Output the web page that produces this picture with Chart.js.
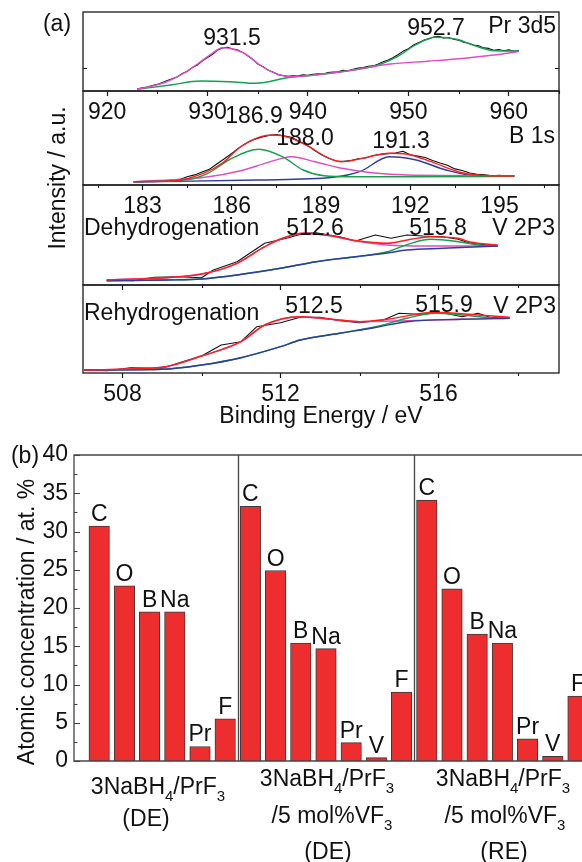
<!DOCTYPE html>
<html>
<head>
<meta charset="utf-8">
<script src="https://cdn.jsdelivr.net/npm/chart.js@4.4.1/dist/chart.umd.min.js"></script>
<style>
  html, body { margin: 0; padding: 0; background: #fff; }
  body { width: 582px; height: 862px; overflow: hidden; position: relative; }
  canvas { position: absolute; left: 0; top: 0; }
</style>
</head>
<body>
<canvas id="pr3d" width="582" height="862"></canvas>
<canvas id="b1s" width="582" height="862"></canvas>
<canvas id="vDe" width="582" height="862"></canvas>
<canvas id="vRe" width="582" height="862"></canvas>
<canvas id="atoms" width="582" height="862"></canvas>
<script>
// ---------- (a) XPS spectra: binding energy (eV) vs intensity (a.u.) ----------

// Pr 3d5
const prE = [923,923.5,924,924.5,925,925.5,926,926.5,927,927.5,928,928.5,929,929.5,930,930.5,931,931.5,932,932.5,
  933,933.5,934,934.5,935,935.5,936,936.5,937,937.5,938,938.5,939,939.5,940,940.5,941,941.5,942,942.5,
  943,943.5,944,944.5,945,945.5,946,946.5,947,947.5,948,948.5,949,949.5,950,950.5,951,951.5,952,952.5,
  953,953.5,954,954.5,955,955.5,956,956.5,957,957.5,958,958.5,959,959.5,960,960.5,961];
const prCounts = [2.0,3.1,4.0,5.5,6.6,8.4,10.5,12.3,14.2,17.6,19.8,23.4,26.1,30.2,33.4,36.8,40.9,43.0,43.8,41.9,
  41.1,38.6,35.2,31.7,27.0,24.6,20.9,18.9,16.4,15.5,14.6,15.2,14.9,16.1,15.6,16.7,17.2,17.0,18.4,18.9,
  19.1,20.6,20.3,21.8,22.9,23.4,24.8,25.1,26.9,29.2,31.0,33.6,36.5,39.9,42.3,45.9,48.2,50.6,52.1,53.9,
  54.6,53.1,53.5,51.8,50.9,48.7,47.8,46.0,45.2,43.1,42.6,40.8,41.5,40.2,41.1,39.8,40.4];
const prPeakLowE = [923,924.5,926,927.5,929,930.3,931.5,932.6,933.7,935.2,936.7,938.2,940.7,944.5,948.2,951.9,955.6,958.5,961];
const prPeakLow  = [1.7,5,9.5,17,27,36.5,43.3,41.8,37.5,26,17.8,14.3,16,21,27,29.7,32.7,36,39.5];
const prPeakHighE = [923,926.3,929.3,932.2,934.8,938.2,940.7,944.5,947,948.9,950.7,952.7,954.8,956.7,958.5,961];
const prPeakHigh  = [1.7,6,10,9.3,7.7,13.7,16,21,26,34.3,46,53.7,51.7,45,40.3,40];

// B 1s
const bE = [182.75,183,183.25,183.5,183.75,184,184.25,184.5,184.75,185,185.25,185.5,185.75,186,186.25,186.5,186.75,
  187,187.25,187.5,187.75,188,188.25,188.5,188.75,189,189.25,189.5,189.75,190,190.25,190.5,190.75,191,191.25,
  191.5,191.75,192,192.25,192.5,192.75,193,193.25,193.5,193.75,194,194.25,194.5,194.75,195,195.25,195.5];
const bCounts = [3.4,3.2,3.8,4.1,4.0,4.9,5.6,8.2,10.1,13.0,15.8,21.0,26.2,31.5,37.4,42.0,45.6,
  47.9,49.6,50.4,49.2,47.8,43.9,40.6,35.2,30.4,27.1,24.0,23.6,24.4,26.3,27.0,29.5,30.6,31.4,
  32.0,33.8,30.2,28.9,27.5,24.6,22.0,19.8,16.1,14.5,12.0,10.8,10.2,9.3,9.6,9.0,9.1];
const bEnvE = [182.7,184.1,185.1,185.7,186.3,186.9,187.4,187.9,188.6,189.2,189.7,190.4,191.3,191.9,192.7,193.6,194.3,195.5];
const bEnv  = [3.3,4.3,12.3,22.3,38.3,47.7,50,47.7,38.3,27.7,23.3,26.7,31.7,30.7,23.3,13.3,9.7,9];
const bPeakAE = [182.7,184.4,185.2,185.9,186.9,187.7,188.4,189.1,190.1,192,195.5];
const bPeakA  = [3.3,5,11.7,25,35.7,28.3,15,9.2,8.2,8.3,8.6];
const bPeakBE = [182.7,185.1,186.3,187.2,188.0,188.8,189.7,190.7,191.9,195.5];
const bPeakB  = [3.3,7.7,14.3,22.3,28.3,23.3,16.7,12.3,10,9.3];
const bPeakCE = [182.7,186.9,189.4,190.3,191.3,192.2,193.2,194.2,195.5];
const bPeakC  = [3,5,7.7,13.3,28.3,25,15,9.3,9];

// V 2p3, dehydrogenated
const vdeE = [507.6,508.26,508.8,509.4,510.0,510.3,510.9,511.6,512.2,512.6,512.9,513.5,513.9,514.4,514.8,515.2,515.6,516.1,516.5,516.8,517.5];
const vdeCounts = [5,4.3,7.7,8.3,7.3,15,23.3,41.7,47.3,51.7,52.3,48.3,44,50,46.7,50,49,48.3,45.7,41.7,39];
const vdeLowE = [507.6,510.0,510.9,511.6,512.0,512.6,513.3,513.9,514.7,515.6,517.5];
const vdeLow  = [5,11,21.7,38.3,46,51.7,49,44,40,39,39];
const vdeHighE = [507.6,509.1,510.0,510.9,512.0,512.9,513.9,514.7,515.3,515.8,516.5,517.0,517.5];
const vdeHigh  = [4.3,5,6,10,16.7,23.3,28.3,33.3,41.7,45.7,43.3,40,39];
const vdeBgE = [507.6,509.1,510.0,510.9,512.0,512.9,513.9,514.7,515.2,516.1,517.5];
const vdeBg  = [4.3,5,6,10,16.7,23.3,28.3,32,35,36.7,39];
const vdeEnvE = [507.6,510.0,510.9,511.6,512.0,512.6,513.3,513.9,514.7,515.3,515.8,516.5,516.8,517.5];
const vdeEnv  = [5,11,21.7,38.3,46,51.7,49,44.5,41.7,45.7,48.3,46.7,43,40];

// V 2p3, rehydrogenated
const vreE = [507.03,507.6,508.2,509.0,509.6,510.0,510.5,511.0,511.4,512.0,512.5,513.0,513.5,514.0,514.6,515.0,515.5,516.1,516.6,517.0,517.3,517.8];
const vreCounts = [3,2.3,5.3,4.7,12.3,17,28,31.3,46.3,50.3,55.7,55.7,52.3,50.3,53,59.7,58.7,60.3,56.3,59.7,55.7,54.7];
const vreLowE = [507.03,509.0,510.0,511.0,511.6,512.5,513.3,514.0,515.2,516.6,517.8];
const vreLow  = [3,5.7,17,31.3,48,56.3,53.7,51.3,52.3,53.7,54.7];
const vreHighE = [507.03,509.0,510.0,511.0,512.0,512.5,513.5,514.6,515.2,515.9,516.6,517.3,517.8];
const vreHigh  = [3,3.7,8,15.3,26.3,33,39.7,48,54.7,59.7,58,55.3,54.7];
const vreBgE = [507.03,509.0,510.0,511.0,512.0,512.5,513.5,514.4,515.2,516.6,517.8];
const vreBg  = [3,3.7,8,15.3,26.3,33,39.7,45.5,51.3,53.7,54.7];
const vreEnvE = [507.03,509.0,510.0,511.0,511.6,512.5,513.3,514.0,514.7,515.9,517.0,517.8];
const vreEnv  = [3,5.7,17,31.3,48,56.3,53.7,51.3,53.7,60.7,58,55.7];

// ---------- (b) surface atomic concentration (at. %) ----------
const sampleElementsPlain = ['C', 'O', 'B', 'Na', 'Pr', 'F'];
const sampleElementsV = ['C', 'O', 'B', 'Na', 'Pr', 'V', 'F'];
const atPctPrF3DE = [30.7, 22.9, 19.5, 19.5, 1.9, 5.5];
const atPctVF3DE  = [33.3, 24.9, 15.4, 14.7, 2.4, 0.45, 9.0];
const atPctVF3RE  = [34.1, 22.5, 16.6, 15.4, 2.9, 0.6, 8.5];
const yTicksAt = { min: 0, max: 40, step: 5 };

// ---------- drawing ----------
const W = 582, H = 862;
const FONT = '"Liberation Sans", Arial, Helvetica, sans-serif';
const FS = 23;
const INK = '#111';
const COL = { raw: '#111111', env: '#ff1e1e', green: '#13a050', pink: '#e04cc2', blue: '#2f3d9e' };

Chart.defaults.font.family = FONT;
Chart.defaults.font.size = FS;
Chart.defaults.color = INK;

const pts = (xs, ys) => xs.map((x, i) => ({ x, y: ys[i] }));

// text with optional subscripts: t is a string or a list of [text, isSub]
function drawText(ctx, spec) {
  const parts = typeof spec.t === 'string' ? [[spec.t, false]] : spec.t;
  const size = spec.size || FS;
  const sub = Math.round(size * 0.66);
  ctx.save();
  ctx.fillStyle = INK;
  ctx.textBaseline = 'alphabetic';
  ctx.textAlign = 'left';
  const widths = parts.map(([s, isSub]) => { ctx.font = `${isSub ? sub : size}px ${FONT}`; return ctx.measureText(s).width; });
  const total = widths.reduce((a, b) => a + b, 0);
  ctx.translate(spec.x, spec.y);
  if (spec.rot) ctx.rotate(spec.rot);
  let cx = spec.align === 'left' ? 0 : spec.align === 'right' ? -total : -total / 2;
  parts.forEach(([s, isSub], i) => {
    ctx.font = `${isSub ? sub : size}px ${FONT}`;
    ctx.fillText(s, cx, isSub ? size * 0.3 : 0);
    cx += widths[i];
  });
  ctx.restore();
}

const spectrumFrame = {
  id: 'spectrumFrame',
  afterDraw(chart, _args, opts) {
    const { ctx, chartArea: a, scales: { x, y } } = chart;
    ctx.save();
    ctx.strokeStyle = '#1a1a1a';
    ctx.lineWidth = 1.3;
    ctx.strokeRect(a.left, a.top, a.right - a.left, a.bottom - a.top);
    ctx.lineWidth = 1.1;
    // minor ticks below the energy axis
    const first = Math.ceil(x.min / opts.minor - 1e-9);
    for (let k = first; k * opts.minor <= x.max; k++) {
      const v = k * opts.minor;
      const r = v / opts.major;
      if (Math.abs(r - Math.round(r)) < 1e-6) continue;
      const px = Math.round(x.getPixelForValue(v)) + 0.5;
      ctx.beginPath(); ctx.moveTo(px, a.bottom); ctx.lineTo(px, a.bottom + 3); ctx.stroke();
    }
    // short inward intensity ticks on both sides
    (opts.yTicks || []).forEach(v => {
      const py = Math.round(y.getPixelForValue(v)) + 0.5;
      ctx.beginPath();
      ctx.moveTo(a.left, py); ctx.lineTo(a.left + 4, py);
      ctx.moveTo(a.right, py); ctx.lineTo(a.right - 4, py);
      ctx.stroke();
    });
    ctx.restore();
    (opts.texts || []).forEach(t => drawText(ctx, t));
  }
};

function spectrum(id, s) {
  const datasets = s.curves.map(c => ({
    data: pts(c.x, c.y),
    borderColor: c.color,
    borderWidth: c.raw ? 1.1 : 1.4,
    pointRadius: 0,
    fill: false,
    tension: c.raw ? 0 : 0.4,
    cubicInterpolationMode: c.raw ? 'default' : 'monotone',
    borderJoinStyle: 'round'
  }));
  return new Chart(document.getElementById(id), {
    type: 'line',
    data: { datasets },
    options: {
      responsive: false, animation: false, devicePixelRatio: 1,
      events: [],
      layout: { padding: { left: 83, right: W - 559, top: s.top, bottom: H - s.bottom - s.axisH } },
      plugins: {
        legend: { display: false }, tooltip: { enabled: false },
        spectrumFrame: { minor: s.minor, major: s.step, texts: s.texts, yTicks: s.yTicks }
      },
      scales: {
        x: {
          type: 'linear', min: s.min, max: s.max,
          afterFit: sc => { sc.height = s.axisH; },
          border: { display: false },
          grid: { drawOnChartArea: false, drawTicks: true, tickLength: 5, tickWidth: 1.2, tickColor: '#1a1a1a' },
          ticks: { stepSize: s.step, includeBounds: false, autoSkip: false, maxRotation: 0,
                   display: s.labels, padding: 3, font: { size: FS }, color: INK },
          title: s.title ? { display: true, text: s.title, font: { size: FS }, color: INK, padding: { top: 0, bottom: 5 } }
                         : { display: false }
        },
        y: { display: false, min: 0, max: s.bottom - s.top }
      }
    },
    plugins: [spectrumFrame]
  });
}

spectrum('pr3d', {
  top: 12, bottom: 91, axisH: 40, min: 917.6, max: 965, step: 10, minor: 5, labels: true, yTicks: [23],
  curves: [
    { x: prPeakLowE, y: prPeakLow, color: COL.pink },
    { x: prPeakHighE, y: prPeakHigh, color: COL.green },
    { x: prE, y: prCounts, color: COL.raw, raw: true }
  ],
  texts: [
    { t: '(a)', x: 57, y: 31 },
    { t: '931.5', x: 232, y: 45 },
    { t: '952.7', x: 436, y: 35 },
    { t: 'Pr 3d5', x: 556, y: 33, align: 'right' }
  ]
});

spectrum('b1s', {
  top: 91, bottom: 185, axisH: 40, min: 181, max: 197, step: 3, minor: 1.5, labels: true,
  curves: [
    { x: bEnvE, y: bEnv, color: COL.env },
    { x: bPeakAE, y: bPeakA, color: COL.green },
    { x: bPeakBE, y: bPeakB, color: COL.pink },
    { x: bPeakCE, y: bPeakC, color: COL.blue },
    { x: bE, y: bCounts, color: COL.raw, raw: true }
  ],
  texts: [
    { t: '186.9', x: 254, y: 123 },
    { t: '188.0', x: 305, y: 145 },
    { t: '191.3', x: 401, y: 148 },
    { t: 'B 1s', x: 555, y: 143, align: 'right' },
    { t: 'Intensity / a.u.', x: 65, y: 178, rot: -Math.PI / 2 }
  ]
});

spectrum('vDe', {
  top: 185, bottom: 285, axisH: 20, min: 507, max: 519.05, step: 4, minor: 2, labels: false,
  curves: [
    { x: vdeEnvE, y: vdeEnv, color: COL.env },
    { x: vdeBgE, y: vdeBg, color: COL.blue },
    { x: vdeHighE, y: vdeHigh, color: COL.green },
    { x: vdeLowE, y: vdeLow, color: COL.pink },
    { x: vdeE, y: vdeCounts, color: COL.raw, raw: true }
  ],
  texts: [
    { t: 'Dehydrogenation', x: 84, y: 235, align: 'left' },
    { t: '512.6', x: 315, y: 235 },
    { t: '515.8', x: 438, y: 235 },
    { t: 'V 2P3', x: 555, y: 235, align: 'right' }
  ]
});

spectrum('vRe', {
  top: 285, bottom: 373, axisH: 62, min: 507, max: 519.05, step: 4, minor: 2, labels: true,
  title: 'Binding Energy / eV',
  curves: [
    { x: vreEnvE, y: vreEnv, color: COL.env },
    { x: vreBgE, y: vreBg, color: COL.blue },
    { x: vreHighE, y: vreHigh, color: COL.green },
    { x: vreLowE, y: vreLow, color: COL.pink },
    { x: vreE, y: vreCounts, color: COL.raw, raw: true }
  ],
  texts: [
    { t: 'Rehydrogenation', x: 84, y: 320, align: 'left' },
    { t: '512.5', x: 314, y: 313 },
    { t: '515.9', x: 444, y: 312 },
    { t: 'V 2P3', x: 556, y: 313, align: 'right' }
  ]
});

// ---------- (b) bar chart ----------
const sampleGroups = [
  { symbols: sampleElementsPlain, values: atPctPrF3DE },
  { symbols: sampleElementsV, values: atPctVF3DE },
  { symbols: sampleElementsV, values: atPctVF3RE }
];
const barPoints = [], barSymbols = [], groupEnds = [];
let slot = 0;
sampleGroups.forEach(g => {
  g.values.forEach((v, j) => { barPoints.push({ x: slot, y: v }); barSymbols.push(g.symbols[j]); slot++; });
  groupEnds.push(slot - 0.5);
});

const F4 = [['3NaBH', false], ['4', true], ['/PrF', false], ['3', true]];
const V5 = [['/5 mol%VF', false], ['3', true]];

const barDecor = {
  id: 'barDecor',
  afterDatasetsDraw(chart) {
    const { ctx } = chart;
    const meta = chart.getDatasetMeta(0);
    meta.data.forEach((bar, i) => drawText(ctx, { t: barSymbols[i], x: bar.x, y: bar.y - 5 }));
  },
  afterDraw(chart, _args, opts) {
    const { ctx, chartArea: a, scales: { x, y } } = chart;
    ctx.save();
    ctx.strokeStyle = '#444';
    ctx.lineWidth = 1.3;
    ctx.beginPath();
    ctx.moveTo(a.right + 2, a.top); ctx.lineTo(a.left, a.top); ctx.lineTo(a.left, a.bottom); ctx.lineTo(a.right + 2, a.bottom);
    groupEnds.slice(0, -1).forEach(v => {
      const px = Math.round(x.getPixelForValue(v)) + 0.5;
      ctx.moveTo(px, a.top); ctx.lineTo(px, a.bottom);
    });
    ctx.stroke();
    // inward ticks on the value axis
    ctx.lineWidth = 1.1;
    for (let k = 0; k <= (yTicksAt.max - yTicksAt.min) / (yTicksAt.step / 2); k++) {
      const v = yTicksAt.min + k * yTicksAt.step / 2;
      const py = Math.round(y.getPixelForValue(v)) + 0.5;
      const len = k % 2 === 0 ? 6 : 3.5;
      ctx.beginPath(); ctx.moveTo(a.left, py); ctx.lineTo(a.left + len, py); ctx.stroke();
    }
    ctx.restore();
    opts.texts.forEach(t => drawText(ctx, t));
  }
};

new Chart(document.getElementById('atoms'), {
  type: 'bar',
  data: {
    datasets: [{
      data: barPoints,
      backgroundColor: '#ed2d2e',
      borderColor: '#3a3a3a',
      borderWidth: 1,
      barThickness: 20.5
    }]
  },
  options: {
    responsive: false, animation: false, devicePixelRatio: 1,
    events: [],
    layout: { padding: { left: 0, right: 0, top: 455, bottom: H - 761 } },
    plugins: {
      legend: { display: false }, tooltip: { enabled: false },
      barDecor: {
        texts: [
          { t: '(b)', x: 25, y: 463 },
          { t: 'Atomic concentration / at. %', x: 34, y: 622, rot: -Math.PI / 2 },
          { t: F4, x: 158, y: 794 },
          { t: '(DE)', x: 146, y: 826 },
          { t: F4, x: 327, y: 786 },
          { t: V5, x: 332, y: 823 },
          { t: '(DE)', x: 328, y: 859 },
          { t: F4, x: 503, y: 786 },
          { t: V5, x: 505, y: 823 },
          { t: '(RE)', x: 504, y: 859 }
        ]
      }
    },
    scales: {
      x: { type: 'linear', min: -1, max: 19.16, offset: false, display: false },
      y: {
        min: yTicksAt.min, max: yTicksAt.max,
        afterFit: sc => { sc.width = 74; },
        border: { display: false },
        grid: { display: false, drawTicks: false },
        ticks: { stepSize: yTicksAt.step, padding: 6, font: { size: FS }, color: INK }
      }
    }
  },
  plugins: [barDecor]
});
</script>
</body>
</html>
